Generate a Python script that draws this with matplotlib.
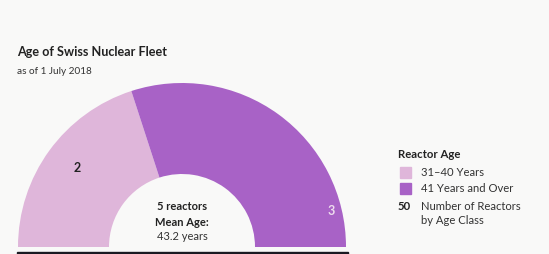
import numpy as np
import matplotlib
matplotlib.use('Agg')
import matplotlib.pyplot as plt
from matplotlib.patches import Rectangle

plt.rcParams['font.family'] = ['Lato', 'DejaVu Sans']

# data
classes = ["31\u201340 Years", "41 Years and Over"]
counts = [2, 3]
colors = ["#dfb6da", "#a862c6"]
total = sum(counts)
mean_age = 43.2

fig = plt.figure(figsize=(5.49, 2.54), dpi=100)
fig.patch.set_facecolor("#f9f9f8")
ax = fig.add_axes([0, 0, 1, 1])

# half donut: add an invisible wedge for the bottom half
cx, cy, R = 182, 7, 164
wedges, _ = ax.pie(counts + [total], colors=colors + ["none"], startangle=180,
                   counterclock=False, center=(cx, cy), radius=R,
                   wedgeprops=dict(width=91, edgecolor="none"), frame=True)
wedges[-1].set_visible(False)
ax.set_xlim(0, 549)
ax.set_ylim(0, 254)
ax.set_aspect('equal')
ax.axis('off')

# dark bar at the bottom
ax.add_patch(Rectangle((17, 0), 331, 2.5, color="#1a1a22", zorder=5))

# segment labels
ax.text(77, 254 - 168, str(counts[0]), ha='center', va='center', fontsize=9,
        fontweight='bold', color="#222222")
ax.text(331, 254 - 211, str(counts[1]), ha='center', va='center', fontsize=9,
        fontweight='bold', color="#eedcee")

# center text
ax.text(cx, 254 - 206, "%d reactors" % total, ha='center', va='center',
        fontsize=8, fontweight='bold', color="#222222")
ax.text(cx, 254 - 222, "Mean Age:", ha='center', va='center',
        fontsize=8, fontweight='bold', color="#222222")
ax.text(cx, 254 - 237, "%.1f years" % mean_age, ha='center', va='center',
        fontsize=8, color="#333333")

# title
ax.text(17, 254 - 52, "Age of Swiss Nuclear Fleet", ha='left', va='center',
        fontsize=9.1, fontweight='bold', color="#222222")
ax.text(17, 254 - 71, "as of 1 July 2018", ha='left', va='center',
        fontsize=7.2, color="#333333")

# legend
ax.text(398, 254 - 155, "Reactor Age", ha='left', va='center', fontsize=8.2,
        fontweight='bold', color="#222222")
for i, (lab, col) in enumerate(zip(classes, colors)):
    y = 254 - 172 - i * 16
    ax.add_patch(Rectangle((400, y - 5.5), 11, 11, color=col))
    ax.text(421, y, lab, ha='left', va='center', fontsize=8.1, color="#333333")
ax.text(398, 254 - 206, "50", ha='left', va='center', fontsize=8.2,
        fontweight='bold', color="#222222")
ax.text(421, 254 - 206, "Number of Reactors", ha='left', va='center',
        fontsize=8.1, color="#333333")
ax.text(421, 254 - 221, "by Age Class", ha='left', va='center',
        fontsize=8.1, color="#333333")

fig.savefig("out.png", dpi=100, facecolor=fig.get_facecolor())
